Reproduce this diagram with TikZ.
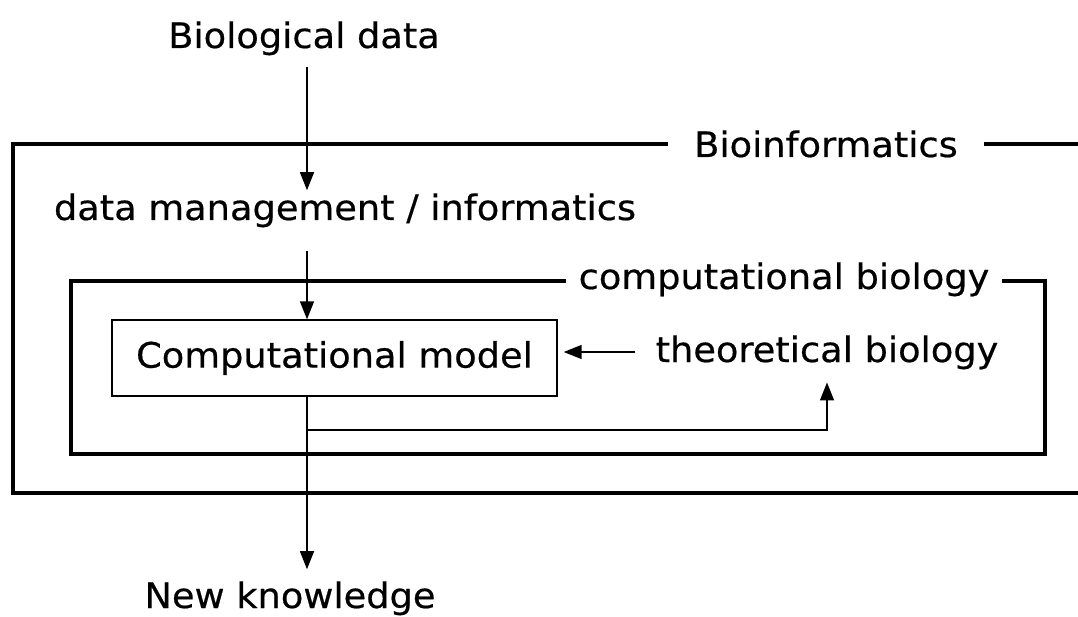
\documentclass[tikz,border=0pt]{standalone}
\usepackage{fontspec}
\setmainfont{DejaVu Sans}[FakeStretch=1.05,FakeBold=0.5]
\usetikzlibrary{arrows.meta}
\begin{document}
\begin{tikzpicture}[x=1pt,y=-1pt,
  txt/.style={font=\fontsize{35}{40}\selectfont, inner sep=0pt, anchor=base},
  lbl/.style={txt, fill=white},
  bigbox/.style={line width=3.2pt},
  arr/.style={line width=1.6pt, -{Triangle[length=18pt,width=14pt]}},
  modelbox/.style={draw, line width=1.4pt, minimum width=445pt, minimum height=76pt,
     inner sep=0pt, font=\fontsize{35}{40}\selectfont}]
\useasboundingbox (0,0) rectangle (1078,617);
% outer box (right side beyond the picture)
\draw[bigbox] (1090,144) -- (13,144) -- (13,493) -- (1090,493);
\node[lbl, inner xsep=26pt] (bioinf) at (826,157) {Bioinformatics};
% inner box
\draw[bigbox] (71,281) rectangle (1045,454);
\node[lbl, inner xsep=13pt] (compbio) at (784,289) {computational biology};
% nodes
\node[txt] (bio) at (304,48) {Biological data};
\node[txt] (dm) at (345,220) {data management / informatics};
\node[modelbox] (model) at (334.5,358) {Computational model};
\node[txt] (theo) at (827,362) {theoretical biology};
\node[txt] (nk) at (290,608) {New knowledge};
\coordinate (spine) at (307,0);
\coordinate (fb) at (307,430);
% connectors
\draw[arr, shorten <=12pt, shorten >=3pt] (bio.south -| spine) -- (dm.north -| spine);
\draw[arr, shorten <=24pt] (dm.south -| spine) -- (model.north -| spine);
\draw[arr, shorten >=12pt] (model.south -| spine) -- (nk.north -| spine);
\draw[arr, line width=1.4pt, shorten >=13pt] (fb) -| (theo.south);
\draw[arr, shorten <=20pt, shorten >=6pt] (theo.west |- 0,352) -- (model.east |- 0,352);
\end{tikzpicture}
\end{document}
